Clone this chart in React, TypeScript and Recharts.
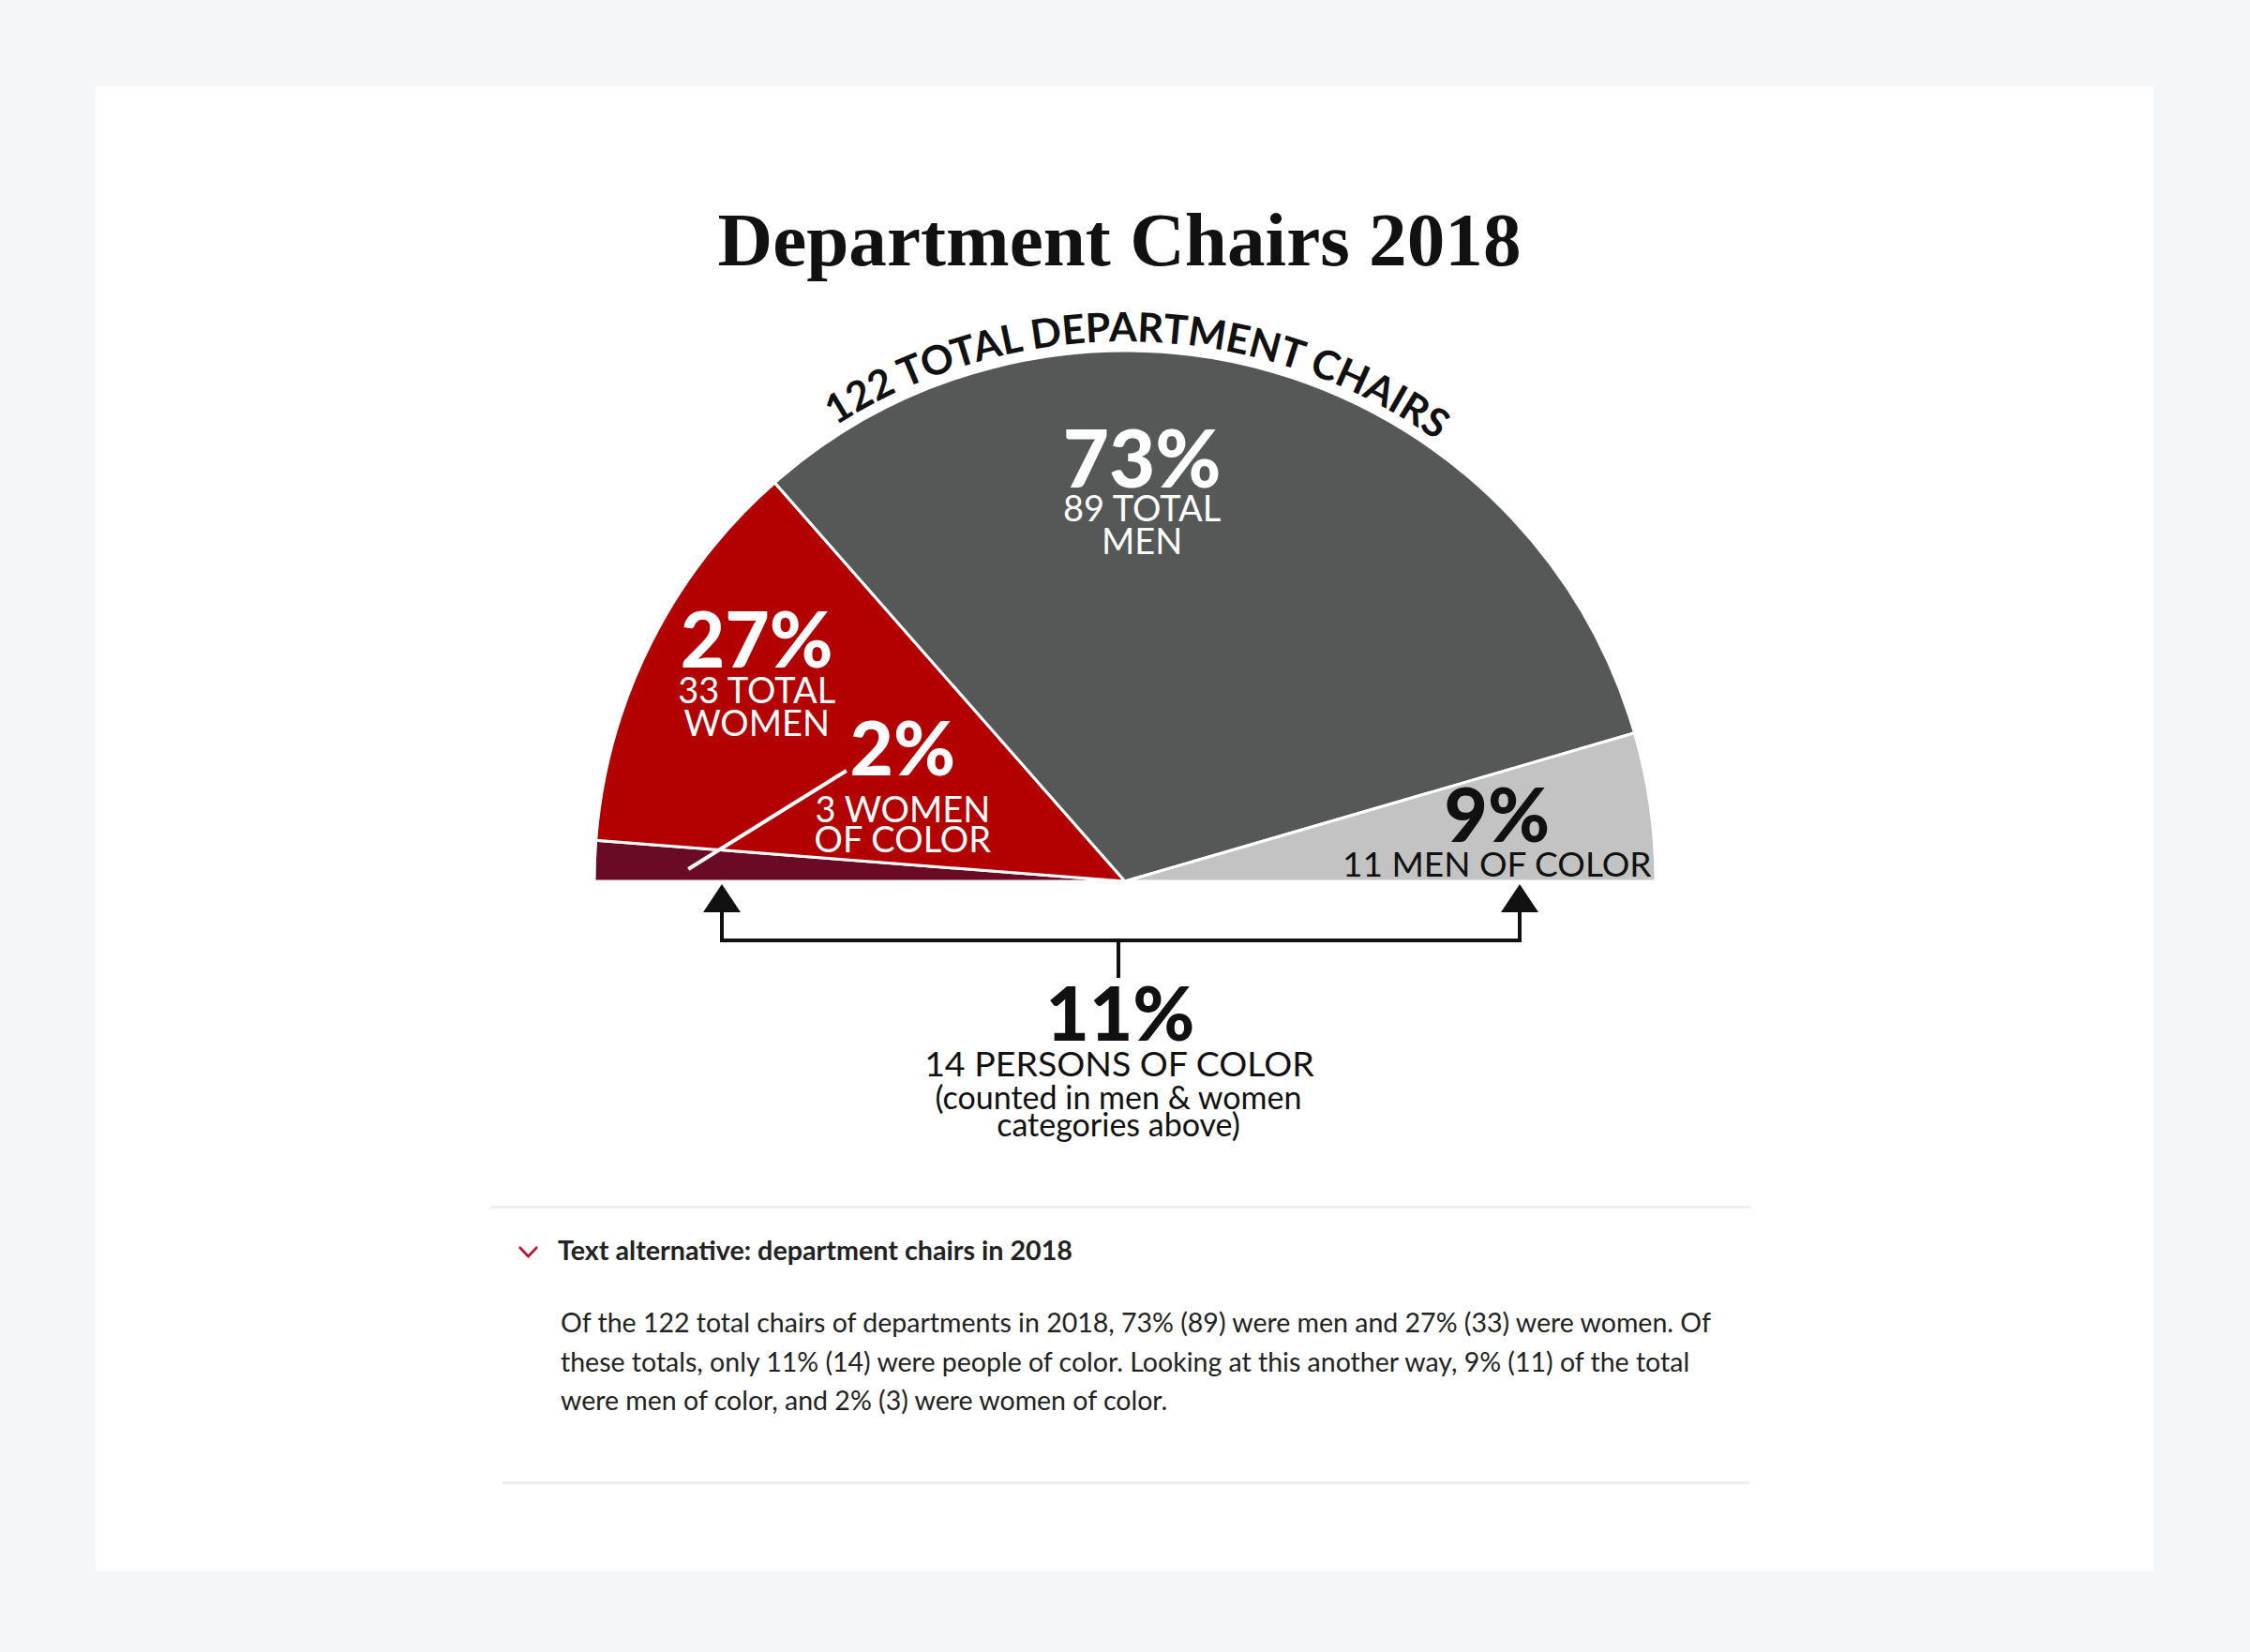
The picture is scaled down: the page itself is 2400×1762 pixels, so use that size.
import React from "react";
import { Cell, Pie, PieChart } from "recharts";

// chair counts, split into the four wedges drawn left to right
const SEGMENTS = ["Women of color", "Other women", "Other men", "Men of color"];
const CHAIRS = [3, 30, 78, 11];
const COLORS = ["#6B0A24", "#B30000", "#555857", "#C3C3C3"];

const TOTAL = CHAIRS.reduce((a, b) => a + b, 0);
const WOMEN = CHAIRS[0] + CHAIRS[1];
const MEN = CHAIRS[2] + CHAIRS[3];
const POC = CHAIRS[0] + CHAIRS[3];
const pct = (n: number) => `${Math.round((n / TOTAL) * 100)}%`;

const BIG_LABELS = [pct(CHAIRS[0]), pct(WOMEN), pct(MEN), pct(CHAIRS[3])];
const SUB_LABELS = [
	[`${CHAIRS[0]} WOMEN`, "OF COLOR"],
	[`${WOMEN} TOTAL`, "WOMEN"],
	[`${MEN} TOTAL`, "MEN"],
	[`${CHAIRS[3]} MEN OF COLOR`],
];

const data = SEGMENTS.map((name, i) => ({ name, value: CHAIRS[i] }));

const CX = 1200;
const CY = 940;
const R = 566;
const SANS = "Lato, 'Noto Sans', sans-serif";

// where each wedge's label sits, in units of the radius from the centre
const LABEL_LAYOUT = [
	{ dx: -0.419, dy: -0.2, big: 80, sub: 38, gaps: [50, 82], color: "#fff", leader: [-0.823, -0.023, -0.525, -0.2085] },
	{ dx: -0.694, dy: -0.403, big: 82, sub: 38, gaps: [38, 73], color: "#fff" },
	{ dx: 0.032, dy: -0.742, big: 85, sub: 38, gaps: [36, 71], color: "#fff" },
	{ dx: 0.701, dy: -0.074, big: 80, sub: 37, gaps: [37], color: "#111" },
];

const renderLabel = (props: any) => {
	const cx = props.cx ?? CX;
	const cy = props.cy ?? CY;
	const r = props.outerRadius ?? R;
	const i = props.index;
	const l = LABEL_LAYOUT[i];
	const x = cx + l.dx * r;
	const y = cy + l.dy * r;
	return (
		<g key={`label-${i}`}>
			{l.leader && (
				<line
					x1={cx + l.leader[0] * r}
					y1={cy + l.leader[1] * r}
					x2={cx + l.leader[2] * r}
					y2={cy + l.leader[3] * r}
					stroke="#fff"
					strokeWidth={4}
				/>
			)}
			<text
				x={x}
				y={y}
				textAnchor="middle"
				fill={l.color}
				fontFamily={SANS}
				fontWeight={900}
				fontSize={l.big}
			>
				{BIG_LABELS[i]}
			</text>
			{SUB_LABELS[i].map((s, j) => (
				<text
					key={s}
					x={x}
					y={y + l.gaps[j]}
					textAnchor="middle"
					fill={l.color}
					fontFamily={SANS}
					fontSize={l.sub}
				>
					{s}
				</text>
			))}
		</g>
	);
};

const Annotations: React.FC = () => {
	const rText = 576;
	const arc = `M ${CX - rText} ${CY} A ${rText} ${rText} 0 0 1 ${CX + rText} ${CY}`;
	return (
		<svg
			width={2400}
			height={1300}
			style={{ position: "absolute", left: 0, top: 0, pointerEvents: "none" }}
		>
			<defs>
				<path id="topArc" d={arc} />
			</defs>
			<text
				x={1194}
				y={283}
				textAnchor="middle"
				fontFamily="'Liberation Serif', serif"
				fontWeight={700}
				fontSize={80}
				fill="#111"
				textLength={857}
				lengthAdjust="spacingAndGlyphs"
			>
				Department Chairs 2018
			</text>
			<text fontFamily={SANS} fontWeight={700} fontSize={43} fill="#111">
				<textPath href="#topArc" startOffset="50.8%" textAnchor="middle">
					{`${TOTAL} TOTAL DEPARTMENT CHAIRS`}
				</textPath>
			</text>

			{/* bracket pointing at both "of color" wedges */}
			<path d="M770 973 V1003 H1621 V973" fill="none" stroke="#111" strokeWidth={4} />
			<polygon points="770,943 750,973 790,973" fill="#111" />
			<polygon points="1621,943 1601,973 1641,973" fill="#111" />
			<line x1={1193} y1={1003} x2={1193} y2={1043} stroke="#111" strokeWidth={4} />

			<text x={1195} y={1110} textAnchor="middle" fontFamily={SANS} fontWeight={900} fontSize={80} fill="#111">
				{pct(POC)}
			</text>
			<text x={1194} y={1148} textAnchor="middle" fontFamily={SANS} fontSize={37.5} fill="#111">
				{`${POC} PERSONS OF COLOR`}
			</text>
			<text x={1193} y={1183} textAnchor="middle" fontFamily={SANS} fontSize={34} fill="#111">
				(counted in men &amp; women
			</text>
			<text x={1193} y={1212} textAnchor="middle" fontFamily={SANS} fontSize={34} fill="#111">
				categories above)
			</text>
		</svg>
	);
};

const App: React.FC = () => {
	return (
		<div
			style={{
				position: "relative",
				width: 2400,
				height: 1762,
				background: "#F5F6F8",
				fontFamily: SANS,
				overflow: "hidden",
			}}
		>
			<style>{"body{margin:0}"}</style>
			<div
				style={{
					position: "absolute",
					left: 102,
					top: 92,
					width: 2195,
					height: 1584,
					background: "#fff",
				}}
			/>
			<div style={{ position: "absolute", left: 0, top: 0 }}>
				<PieChart width={2400} height={1300} margin={{ top: 0, right: 0, bottom: 0, left: 0 }}>
					<Pie
						data={data}
						dataKey="value"
						nameKey="name"
						cx={CX}
						cy={CY}
						outerRadius={R}
						startAngle={180}
						endAngle={0}
						stroke="#fff"
						strokeWidth={3}
						label={renderLabel}
						labelLine={false}
						isAnimationActive={false}
					>
						{data.map((d, i) => (
							<Cell key={d.name} fill={COLORS[i]} />
						))}
					</Pie>
				</PieChart>
			</div>
			<Annotations />

			<div style={{ position: "absolute", left: 523, top: 1286, width: 1344, height: 3, background: "#ECEEEF" }} />
			<svg width={30} height={20} style={{ position: "absolute", left: 549, top: 1325 }}>
				<polyline points="5,5 14.5,15 24,5" fill="none" stroke="#B5122E" strokeWidth={2.6} />
			</svg>
			<div
				style={{
					position: "absolute",
					left: 595,
					top: 1319,
					fontSize: 28.7,
					lineHeight: "28px",
					fontWeight: 700,
					color: "#222",
					whiteSpace: "nowrap",
				}}
			>
				Text alternative: department chairs in 2018
			</div>
			<div
				style={{
					position: "absolute",
					left: 598,
					top: 1390,
					fontSize: 28.5,
					lineHeight: "41.5px",
					color: "#222",
					whiteSpace: "nowrap",
				}}
			>
				Of the 122 total chairs of departments in 2018, 73% (89) were men and 27% (33) were women. Of
				<br />
				these totals, only 11% (14) were people of color. Looking at this another way, 9% (11) of the total
				<br />
				were men of color, and 2% (3) were women of color.
			</div>
			<div style={{ position: "absolute", left: 536, top: 1580, width: 1330, height: 3, background: "#ECEEEF" }} />
		</div>
	);
};

export default App;
